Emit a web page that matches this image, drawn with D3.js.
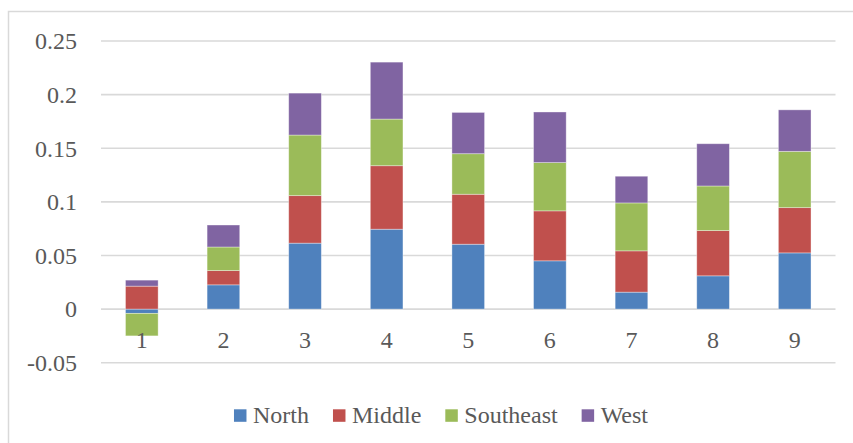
<!DOCTYPE html>
<html>
<head>
<meta charset="utf-8">
<script src="https://cdn.jsdelivr.net/npm/d3@7"></script>
<style>
  body { margin: 0; background: #fff; }
  svg text { font-family: "Liberation Serif", "Times New Roman", serif; fill: #595959; }
</style>
</head>
<body>
<div id="chart"></div>
<script>
// categories and series
var categories = ["1", "2", "3", "4", "5", "6", "7", "8", "9"];
var seriesNames = ["North", "Middle", "Southeast", "West"];
var north     = [-0.004, 0.0226, 0.0615, 0.0745, 0.0605, 0.045, 0.0158, 0.031, 0.0524];
var middle    = [0.0214, 0.0133, 0.0443, 0.0592, 0.0466, 0.0466, 0.0385, 0.0422, 0.0422];
var southeast = [-0.021, 0.022, 0.0565, 0.0435, 0.0378, 0.045, 0.0447, 0.0416, 0.0525];
var west      = [0.0056, 0.0205, 0.0391, 0.0531, 0.0385, 0.0472, 0.0249, 0.0394, 0.0387];
var yTicks = [-0.05, 0, 0.05, 0.1, 0.15, 0.2, 0.25];
var tickLabels = ["-0.05", "0", "0.05", "0.1", "0.15", "0.2", "0.25"];

var colors = ["#4F81BD", "#C0504D", "#9BBB59", "#8064A2"];

var W = 853, H = 443;
var svg = d3.select("#chart").append("svg")
  .attr("width", W).attr("height", H);

// outer chart border (cropped on right/bottom)
svg.append("rect")
  .attr("x", 8.5).attr("y", 11.5)
  .attr("width", W + 10).attr("height", H + 10)
  .attr("fill", "#fff").attr("stroke", "#d9d9d9").attr("stroke-width", 1.5);

var rows = categories.map(function(c, i) {
  return {cat: c, North: north[i], Middle: middle[i], Southeast: southeast[i], West: west[i]};
});

var x = d3.scaleBand()
  .domain(categories)
  .range([101, 835.5])
  .paddingInner(0.6)
  .paddingOuter(0.3);

var y = d3.scaleLinear()
  .domain([-0.05, 0.25])
  .range([362.7, 41]);

// gridlines
svg.append("g")
  .selectAll("line")
  .data(yTicks)
  .enter().append("line")
  .attr("x1", 101).attr("x2", 835.5)
  .attr("y1", function(d) { return y(d); })
  .attr("y2", function(d) { return y(d); })
  .attr("stroke", "#d9d9d9").attr("stroke-width", 1.6);

// y labels
svg.append("g")
  .selectAll("text")
  .data(yTicks)
  .enter().append("text")
  .attr("x", 77)
  .attr("y", function(d) { return y(d) + 8.3; })
  .attr("text-anchor", "end")
  .attr("font-size", 24)
  .text(function(d, i) { return tickLabels[i]; });

var stack = d3.stack()
  .keys(seriesNames)
  .offset(d3.stackOffsetDiverging);
var stacked = stack(rows);

svg.append("g")
  .selectAll("g")
  .data(stacked)
  .enter().append("g")
  .attr("fill", function(d, i) { return colors[i]; })
  .selectAll("rect")
  .data(function(d) { return d; })
  .enter().append("rect")
  .attr("x", function(d) { return x(d.data.cat); })
  .attr("width", x.bandwidth())
  .attr("y", function(d) { return y(Math.max(d[0], d[1])); })
  .attr("height", function(d) { return Math.abs(y(d[0]) - y(d[1])); })
  .attr("stroke", "#fff").attr("stroke-opacity", 0.45).attr("stroke-width", 0.8);

// x labels
svg.append("g")
  .selectAll("text")
  .data(categories)
  .enter().append("text")
  .attr("x", function(d) { return x(d) + x.bandwidth() / 2; })
  .attr("y", 348)
  .attr("text-anchor", "middle")
  .attr("font-size", 24)
  .text(function(d) { return d; });

// legend
var legend = svg.append("g");
var lx = 0;
var items = [];
seriesNames.forEach(function(name, i) {
  var g = legend.append("g");
  g.append("rect")
    .attr("x", 0).attr("y", -13.4)
    .attr("width", 12.5).attr("height", 12.5)
    .attr("fill", colors[i]);
  var t = g.append("text")
    .attr("x", 19).attr("y", 0)
    .attr("font-size", 24)
    .text(name);
  var w = 19 + t.node().getComputedTextLength();
  g.attr("transform", "translate(" + lx + ",0)");
  lx += w + 24;
});
var totalW = lx - 24;
legend.attr("transform", "translate(" + (441 - totalW / 2) + ",422.7)");
</script>
</body>
</html>
